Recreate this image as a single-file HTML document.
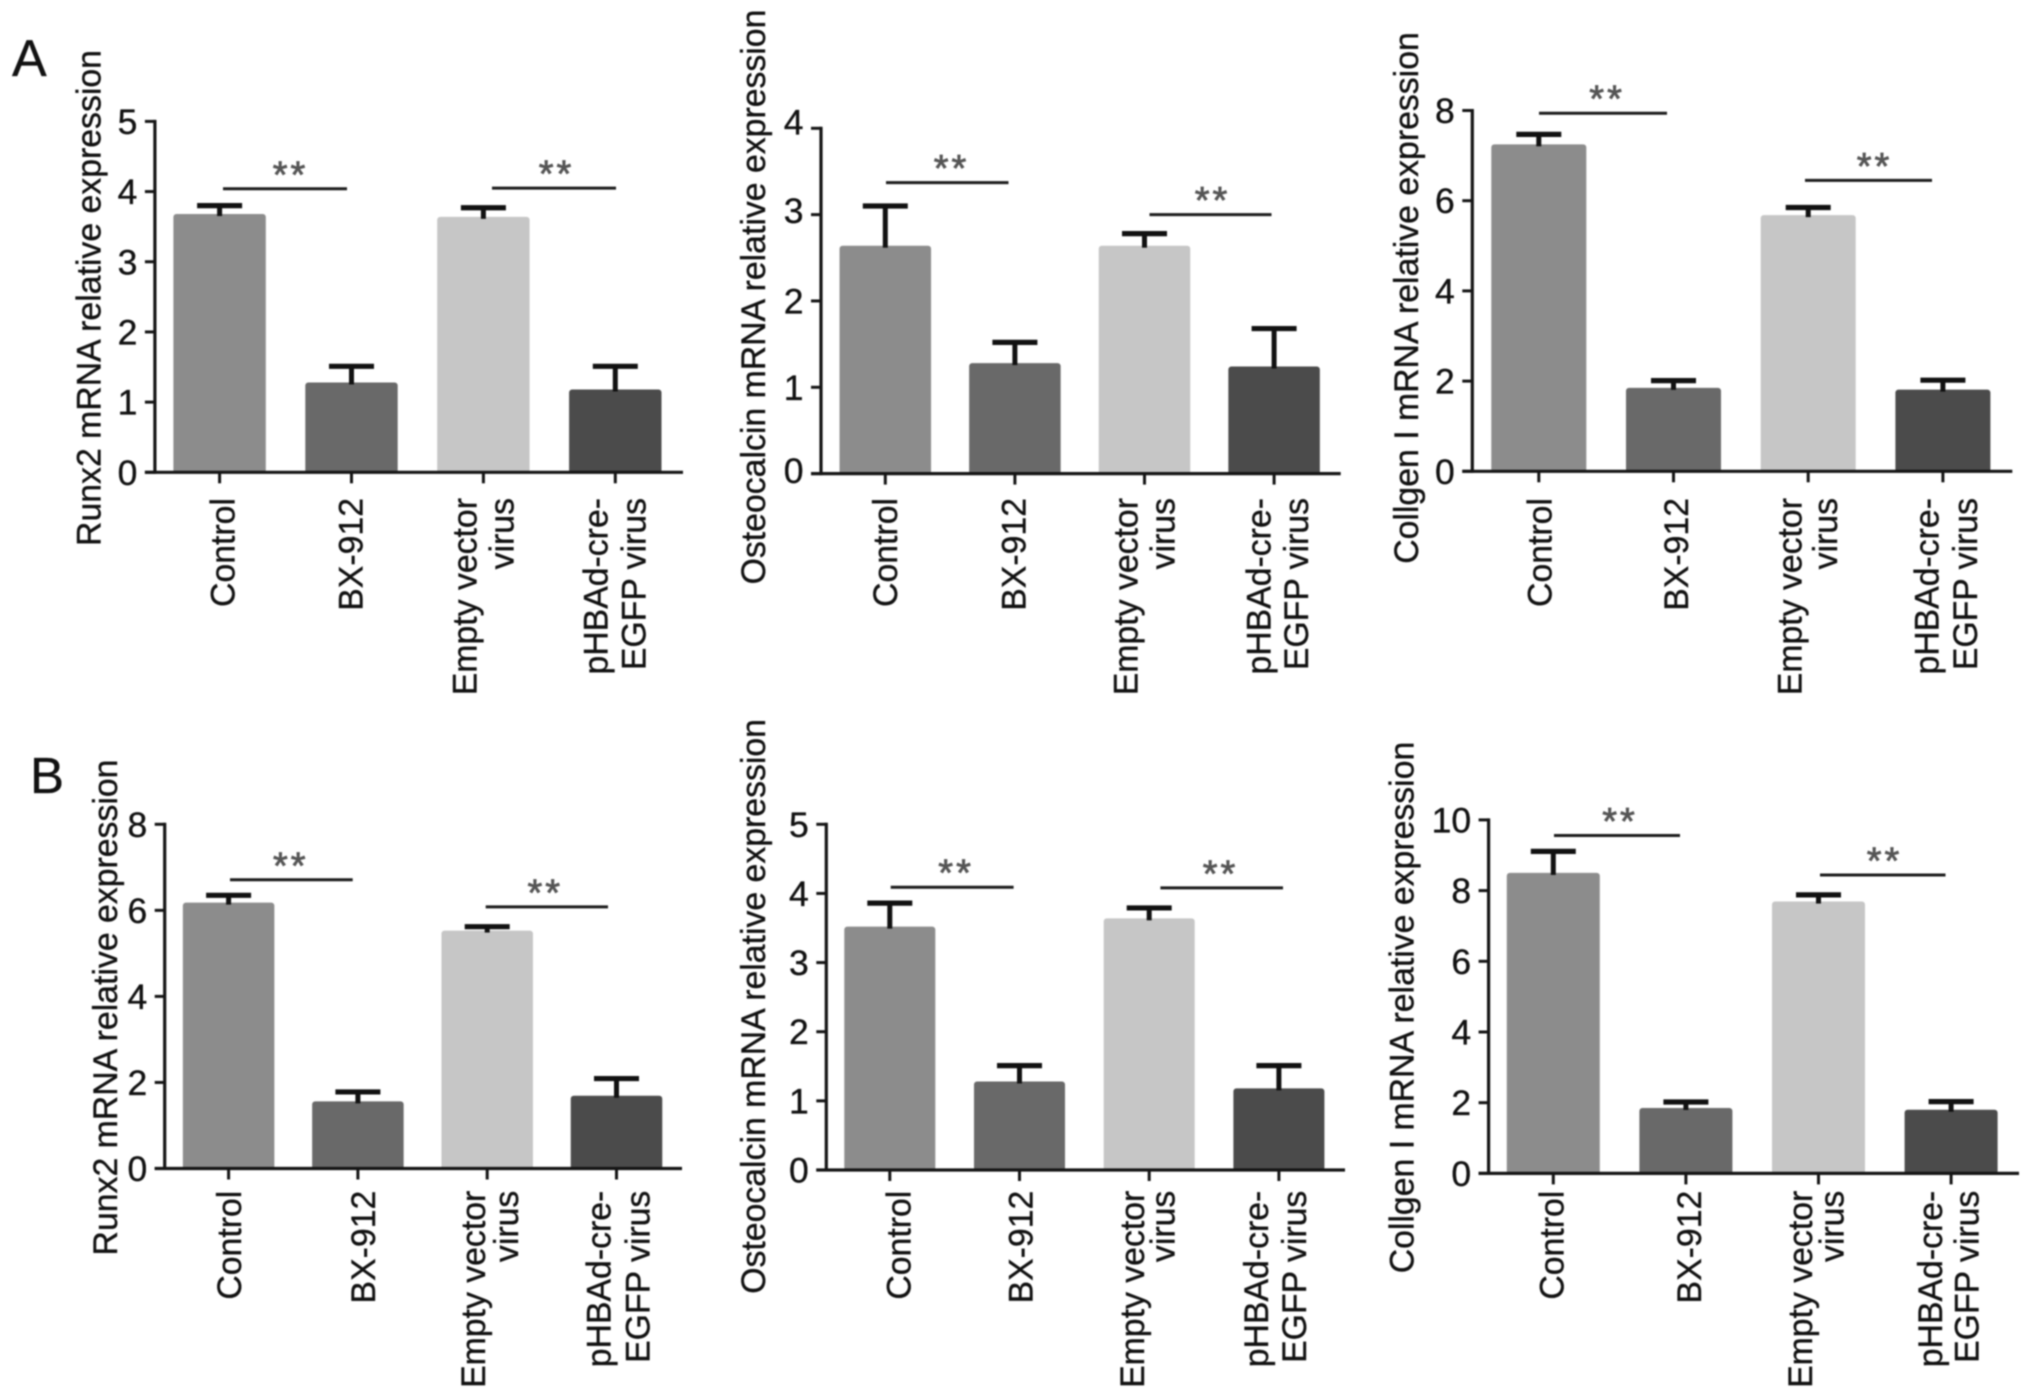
<!DOCTYPE html>
<html>
<head>
<meta charset="utf-8">
<title>mRNA relative expression bar charts</title>
<style>
html,body{margin:0;padding:0;background:#fff;}
body{width:2032px;height:1396px;overflow:hidden;}
svg{display:block;filter:blur(0.7px);}
text{font-family:"Liberation Sans",sans-serif;fill:#111;stroke:#111;stroke-width:0.35px;}
</style>
</head>
<body>
<svg id="figure" width="2032" height="1396" viewBox="0 0 2032 1396" xmlns="http://www.w3.org/2000/svg">
<text x="12" y="76" font-size="52">A</text>
<text x="30" y="793" font-size="51">B</text>
</svg>
<script>
// Shared categories (each inner array is the lines of one label)
const categories = [["Control"], ["BX-912"], ["Empty vector", "virus"], ["pHBAd-cre-", "EGFP virus"]];

// Axis titles
const titleRunx2 = "Runx2 mRNA relative expression";
const titleOsteocalcin = "Osteocalcin mRNA relative expression";
const titleCollagen = "Collgen I mRNA relative expression";

// Tick labels
const ticksA1 = [0, 1, 2, 3, 4, 5];
const ticksA2 = [0, 1, 2, 3, 4];
const ticksA3 = [0, 2, 4, 6, 8];
const ticksB1 = [0, 2, 4, 6, 8];
const ticksB2 = [0, 1, 2, 3, 4, 5];
const ticksB3 = [0, 2, 4, 6, 8, 10];

// Bar means
const valuesA1 = [3.68, 1.28, 3.64, 1.18];
const valuesA2 = [2.64, 1.28, 2.64, 1.24];
const valuesA3 = [7.25, 1.85, 5.68, 1.81];
const valuesB1 = [6.18, 1.56, 5.53, 1.69];
const valuesB2 = [3.52, 1.28, 3.64, 1.18];
const valuesB3 = [8.50, 1.85, 7.69, 1.80];

// Upper end of the error bars
const errorsA1 = [3.80, 1.51, 3.77, 1.51];
const errorsA2 = [3.10, 1.52, 2.78, 1.68];
const errorsA3 = [7.47, 2.01, 5.85, 2.02];
const errorsB1 = [6.35, 1.78, 5.62, 2.09];
const errorsB2 = [3.86, 1.51, 3.79, 1.51];
const errorsB3 = [9.11, 2.02, 7.88, 2.03];

// Significance bracket heights (axis units)
const sigA1 = [4.04, 4.05];
const sigA2 = [3.37, 3.00];
const sigA3 = [7.94, 6.45];
const sigB1 = [6.71, 6.08];
const sigB2 = [4.09, 4.08];
const sigB3 = [9.56, 8.44];

const barColors = ["#8c8c8c", "#696969", "#c6c6c6", "#4b4b4b"];
const NS = "http://www.w3.org/2000/svg";
const root = document.getElementById("figure");

function shape(parent, tag, name, attrs) {
  const el = document.createElementNS(NS, tag);
  
  
  for (const k in attrs) el.setAttribute(k, attrs[k]);
  parent.appendChild(el);
  return el;
}
function label(parent, name, str, attrs) {
  const el = shape(parent, "text", name, attrs);
  el.textContent = str;
  return el;
}

function drawPanel(p) {
  const g = shape(root, "g", "chart-" + p.id, {});
  const maxTick = p.ticks[p.ticks.length - 1];
  const y = v => p.zeroY - (v / maxTick) * (p.zeroY - p.topY);
  const x = i => p.c0 + i * p.step;

  // Bars, then error bars
  p.values.forEach((v, i) => {
    shape(g, "rect", "bar-" + p.id + "-" + (i + 1), {
      x: x(i) - p.barW / 2, y: y(v), width: p.barW, height: p.zeroY - y(v) + 1,
      rx: 3, fill: barColors[i]
    });
    shape(g, "line", "error-stem-" + p.id + "-" + (i + 1), {
      x1: x(i), x2: x(i), y1: y(v) + 2, y2: y(p.errors[i]), stroke: "#111", "stroke-width": 5
    });
    shape(g, "line", "error-cap-" + p.id + "-" + (i + 1), {
      x1: x(i) - 22.5, x2: x(i) + 22.5, y1: y(p.errors[i]), y2: y(p.errors[i]), stroke: "#111", "stroke-width": 5.2
    });
  });

  // Axes
  shape(g, "line", "y-axis-" + p.id, {
    x1: p.axisX, x2: p.axisX, y1: p.topY - 1.5, y2: p.zeroY + 1.5, stroke: "#151515", "stroke-width": 3.2
  });
  shape(g, "line", "x-axis-" + p.id, {
    x1: p.axisX - 10, x2: p.xEnd, y1: p.zeroY, y2: p.zeroY, stroke: "#151515", "stroke-width": 3.2
  });

  // Y ticks
  p.ticks.forEach((t, i) => {
    shape(g, "line", "y-tick-" + p.id + "-" + t, {
      x1: p.axisX - 10, x2: p.axisX, y1: y(t), y2: y(t), stroke: "#151515", "stroke-width": 3
    });
    const shift = p.tickShift ? p.tickShift[i] : 0;
    label(g, "y-tick-label-" + p.id + "-" + t, String(t), {
      x: p.axisX - 17.5, y: y(t) + 12.5 + shift, "font-size": 35.5, "text-anchor": "end"
    });
  });

  // X ticks and rotated category labels
  categories.forEach((lines, i) => {
    shape(g, "line", "x-tick-" + p.id + "-" + (i + 1), {
      x1: x(i), x2: x(i), y1: p.zeroY, y2: p.zeroY + 11, stroke: "#151515", "stroke-width": 3
    });
    lines.forEach((ln, j) => {
      const bx = x(i) + p.labelOff[i][j];
      label(g, "x-label-" + p.id + "-" + (i + 1) + "-" + (j + 1), ln, {
        x: bx, y: p.labelTop, "font-size": 33.8, "text-anchor": "end",
        transform: "rotate(-90 " + bx + " " + p.labelTop + ")"
      });
    });
  });

  // Y axis title
  label(g, "y-axis-title-" + p.id, p.title, {
    x: p.titleX, y: p.titleY, "font-size": 33.8, "text-anchor": "middle",
    transform: "rotate(-90 " + p.titleX + " " + p.titleY + ")"
  });

  // Significance brackets
  p.sig.forEach((v, i) => {
    const b = p.brackets[i];
    shape(g, "line", "significance-line-" + p.id + "-" + (i + 1), {
      x1: b[0], x2: b[1], y1: y(v), y2: y(v), stroke: "#1c1c1c", "stroke-width": 3
    });
    const s = label(g, "significance-stars-" + p.id + "-" + (i + 1), "**", {
      x: b[2] + 1.5, y: y(v) - 1.5, "font-size": 38, "text-anchor": "middle", "letter-spacing": 3
    });
    s.style.fill = "#555";
    s.style.stroke = "#555";
    s.style.strokeWidth = "0.8px";
  });
}

drawPanel({id:"a1", title:titleRunx2, ticks:ticksA1, values:valuesA1, errors:errorsA1, sig:sigA1,
  axisX:154.9, zeroY:472.3, topY:121.4, xEnd:683, c0:219.6, step:131.9, barW:92.4, labelTop:498,
  labelOff:[[14.8],[11],[-6.7,30],[-8,30]], titleX:100.4, titleY:298,
  brackets:[[223,347,289],[492,616,555]]});
drawPanel({id:"a2", title:titleOsteocalcin, ticks:ticksA2, values:valuesA2, errors:errorsA2, sig:sigA2,
  axisX:821, zeroY:473.6, topY:128.3, xEnd:1340.7, c0:885.3, step:129.6, barW:91.5, labelTop:498,
  tickShift:[-3,0,0,-4,-6.5],
  labelOff:[[11.7],[10.5],[-6.8,30],[-3.5,34]], titleX:765, titleY:297,
  brackets:[[886,1008.5,950],[1149.5,1271.5,1211]]});
drawPanel({id:"a3", title:titleCollagen, ticks:ticksA3, values:valuesA3, errors:errorsA3, sig:sigA3,
  axisX:1472.3, zeroY:471.3, topY:110.5, xEnd:2012.3, c0:1538.8, step:134.7, barW:95, labelTop:498,
  labelOff:[[12.8],[14.4],[-6.7,28.8],[-4.2,34]], titleX:1417.9, titleY:298,
  brackets:[[1539,1667,1605.6],[1805,1932,1873]]});
drawPanel({id:"b1", title:titleRunx2, ticks:ticksB1, values:valuesB1, errors:errorsB1, sig:sigB1,
  axisX:164.7, zeroY:1168.5, topY:824.3, xEnd:682, c0:228.6, step:129.3, barW:91.5, labelTop:1190.7,
  labelOff:[[12.5],[17],[-2,31],[-5.8,33]], titleX:117, titleY:1007.5,
  brackets:[[230,352.7,289.3],[485.7,608,543.8]]});
drawPanel({id:"b2", title:titleOsteocalcin, ticks:ticksB2, values:valuesB2, errors:errorsB2, sig:sigB2,
  axisX:826.3, zeroY:1170, topY:824.3, xEnd:1345, c0:889.8, step:129.7, barW:91, labelTop:1190.7,
  labelOff:[[20.6],[13],[-5.2,25.5],[-11,27]], titleX:765.2, titleY:1006.4,
  brackets:[[890.7,1013.6,954.6],[1160.4,1283,1219]]});
drawPanel({id:"b3", title:titleCollagen, ticks:ticksB3, values:valuesB3, errors:errorsB3, sig:sigB3,
  axisX:1488.6, zeroY:1173.4, topY:819.9, xEnd:2019, c0:1553.3, step:132.6, barW:93, labelTop:1190.7,
  labelOff:[[10.3],[14.9],[-6.3,25],[-9,27.5]], titleX:1413.6, titleY:1007.5,
  brackets:[[1554,1680,1618.5],[1820,1945.5,1883]]});
</script>
</body>
</html>
